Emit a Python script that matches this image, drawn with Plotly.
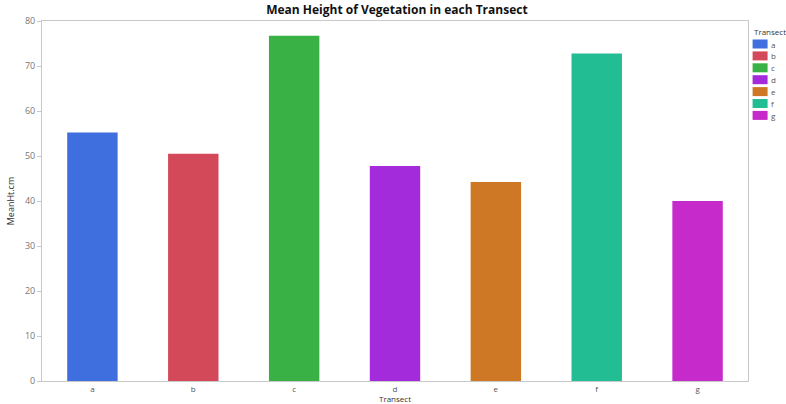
import plotly.graph_objects as go

# Mean vegetation height per transect
transects = ["a", "b", "c", "d", "e", "f", "g"]
mean_height = [55.2, 50.5, 76.7, 47.8, 44.2, 72.8, 40.0]
colors = ["#3F6FDE", "#D4495A", "#3AB144", "#A42BDC", "#CE7826", "#22BD93", "#C62ACA"]
y_ticks = [0, 10, 20, 30, 40, 50, 60, 70, 80]

FONT = "Open Sans, Noto Sans, sans-serif"
AXIS_GRAY = "#C8C8C8"
TEXT_GRAY = "#555555"
PLOT_H = 360  # plot area height in pixels (404 - 21 - 23)
PLOT_W = 706  # plot area width in pixels (786 - 42 - 38)

fig = go.Figure(
    go.Bar(
        x=transects,
        y=mean_height,
        marker=dict(color=colors, line=dict(width=0)),
        width=0.5,
        showlegend=False,
    )
)

fig.update_layout(
    width=786,
    height=404,
    margin=dict(l=42, r=38, t=21, b=23),
    paper_bgcolor="white",
    plot_bgcolor="white",
    font=dict(family=FONT, size=9, color=TEXT_GRAY),
    title=dict(
        text="<b>Mean Height of Vegetation in each Transect</b>",
        x=0.5027, xanchor="center", xref="paper",
        y=0.975, yanchor="middle",
        font=dict(family=FONT, size=12, color="#111111"),
    ),
    xaxis=dict(
        showline=True, linecolor=AXIS_GRAY, linewidth=1, mirror=True,
        ticks="", showgrid=False, tickfont=dict(size=8, color=TEXT_GRAY),
        range=[-0.5, 6.5], automargin=False,
    ),
    yaxis=dict(
        range=[0, 80], tickvals=y_ticks, showline=True, linecolor=AXIS_GRAY,
        linewidth=1, mirror=True, ticks="outside", ticklen=4, tickcolor=AXIS_GRAY,
        showgrid=False, zeroline=False, tickfont=dict(size=9, color="#777777"),
        title=dict(text="MeanHt.cm", standoff=8, font=dict(size=9, color="#333333")),
        automargin=False,
    ),
    bargap=0.5,
)

# x-axis title placed just below the category labels
fig.add_annotation(
    text="Transect", xref="paper", yref="paper", x=0.5, y=-17 / PLOT_H,
    xanchor="center", yanchor="middle", showarrow=False, borderpad=0,
    font=dict(family=FONT, size=8, color="#333333"),
)

# Legend drawn as colour swatches with labels to the right of the plot area
fig.add_annotation(
    text="Transect", xref="paper", yref="paper", x=1.0055, y=1.0 - 10 / PLOT_H,
    xanchor="left", yanchor="middle", showarrow=False,
    font=dict(family=FONT, size=8, color="#333333"),
)
for i, (name, col) in enumerate(zip(transects, colors)):
    yc = 1.0 - (23 + 11.9 * i) / PLOT_H
    fig.add_shape(
        type="rect", xref="paper", yref="paper",
        x0=1.0065, x1=1.0065 + 15 / PLOT_W, y0=yc - 4.5 / PLOT_H, y1=yc + 4.5 / PLOT_H,
        fillcolor=col, line=dict(width=0),
    )
    fig.add_annotation(
        text=name, xref="paper", yref="paper", x=1.0065 + 16 / PLOT_W, y=yc,
        xanchor="left", yanchor="middle", showarrow=False,
        font=dict(family=FONT, size=8, color="#555555"),
    )

fig.write_html("out.html")
